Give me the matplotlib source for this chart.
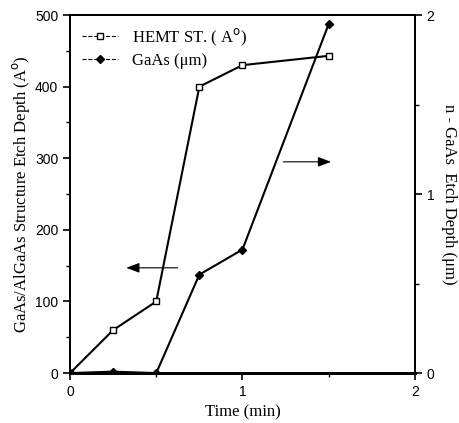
import matplotlib
matplotlib.use('Agg')
from matplotlib import pyplot as plt
from matplotlib.lines import Line2D

time_min = [0, 0.25, 0.5, 0.75, 1.0, 1.5]
hemt = [0, 60, 100, 400, 430, 443]          # A
gaas = [0, 0.008, 0, 0.55, 0.69, 1.95]      # um

serif = ['Liberation Serif', 'DejaVu Serif']
sans = ['Liberation Sans', 'DejaVu Sans']

fig = plt.figure(figsize=(4.59, 4.23), dpi=100)
ax = fig.add_axes([0.1525, 0.118, 0.7515, 0.8465])
ax2 = ax.twinx()

ax.plot(time_min, hemt, c='black', lw=1.5, marker='s', ms=5, mfc='white', mec='black', mew=1.0)
ax2.plot(time_min, gaas, c='black', lw=1.5, marker='D', ms=4.5, mfc='black', mec='black')

ax.set_xlim(0, 2)
ax.set_ylim(0, 500)
ax2.set_ylim(0, 2)
ax.set_xticks([0, 1, 2])
ax.set_xticks([0.5, 1.5], minor=True)
ax.set_yticks(range(0, 501, 100))
ax.set_yticks(range(50, 500, 100), minor=True)
ax2.set_yticks([0, 1, 2])
ax2.set_yticks([0.5, 1.5], minor=True)

for a in (ax, ax2):
    a.tick_params(which='major', length=5, width=1.2, labelsize=10, direction='out')
    a.tick_params(which='minor', length=3, width=1.0, direction='out')
    for s in a.spines.values():
        s.set_linewidth(1.3)
    a.spines['bottom'].set_linewidth(2.0)
    for lab in a.get_xticklabels() + a.get_yticklabels():
        lab.set_family(sans)

ax.set_xlabel('Time (min)', family=serif, fontsize=12)
ax.set_ylabel('GaAs/AlGaAs Structure Etch Depth (A$^{\\rm o}$)', family=serif, fontsize=12, labelpad=2)
ax2.set_ylabel('n - GaAs  Etch Depth (\u03bcm)', family=serif, fontsize=12, rotation=-90, labelpad=16)

# arrows showing which axis each curve belongs to
ax.annotate('', xy=(0.31, 147), xytext=(0.64, 147),
            arrowprops=dict(arrowstyle='-|>,head_length=0.8,head_width=0.3', color='black', lw=0.8))
ax.annotate('', xy=(1.53, 295), xytext=(1.22, 295),
            arrowprops=dict(arrowstyle='-|>,head_length=0.8,head_width=0.3', color='black', lw=0.8))

handles = [
    Line2D([], [], c='black', lw=0.8, ls='--', marker='s', ms=5, mfc='white', mec='black'),
    Line2D([], [], c='black', lw=0.8, ls='--', marker='D', ms=4, mfc='black'),
]
ax.legend(handles, ['HEMT ST. ( A$^{\\rm o}$)', 'GaAs (\u03bcm)'], loc='upper left',
          frameon=False, prop={'family': serif, 'size': 12}, handlelength=2.2,
          borderaxespad=0.3, labelspacing=0.3)

plt.savefig('out.png', dpi=100)
